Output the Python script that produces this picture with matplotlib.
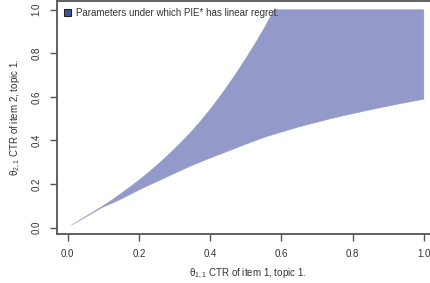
import matplotlib
matplotlib.use("Agg")
import matplotlib.pyplot as plt
from matplotlib.patches import Patch

plt.rcParams['font.family'] = ['Liberation Sans', 'DejaVu Sans']
plt.rcParams['mathtext.default'] = 'regular'

# upper boundary of the region
upper_x = [0.01, 0.10, 0.13, 0.155, 0.18, 0.20, 0.225, 0.25, 0.285, 0.32, 0.345,
           0.37, 0.395, 0.42, 0.445, 0.47, 0.50, 0.53, 0.555, 0.58, 1.00]
upper_y = [0.01, 0.10, 0.133, 0.162, 0.192, 0.217, 0.25, 0.285, 0.337, 0.393, 0.436,
           0.482, 0.532, 0.585, 0.641, 0.70, 0.775, 0.854, 0.924, 1.00, 1.00]
# lower boundary of the region
lower_x = [0.01, 0.10, 0.13, 0.155, 0.20, 0.25, 0.30, 0.343, 0.39, 0.436, 0.50,
           0.558, 0.65, 0.745, 0.84, 0.933, 1.00]
lower_y = [0.01, 0.094, 0.115, 0.134, 0.172, 0.21, 0.248, 0.28, 0.312, 0.341, 0.382,
           0.417, 0.462, 0.502, 0.537, 0.568, 0.589]

xticks = [0.0, 0.2, 0.4, 0.6, 0.8, 1.0]
yticks = [0.0, 0.2, 0.4, 0.6, 0.8, 1.0]

fill_col = '#9399c9'
spine_col = '#555555'
text_col = '#333333'

fig = plt.figure(figsize=(4.31, 2.83), dpi=100)
ax = fig.add_axes([57 / 431, 1 - 234 / 283, 381 / 431, 233 / 283])

poly_x = upper_x + lower_x[::-1]
poly_y = upper_y + lower_y[::-1]
ax.fill(poly_x, poly_y, color=fill_col, lw=0.3, ec=fill_col)

ax.set_xlim(-0.0296, 1.0396)
ax.set_ylim(-0.0296, 1.0396)
ax.set_xticks(xticks)
ax.set_yticks(yticks)
ax.set_xticklabels([f"{t:.1f}" for t in xticks])
ax.set_yticklabels([f"{t:.1f}" for t in yticks], rotation=90, va='center')
ax.tick_params(axis='both', length=5, width=1, color=spine_col,
               labelsize=7, labelcolor=text_col, direction='out')
ax.tick_params(axis='x', pad=6)
ax.tick_params(axis='y', pad=6)
for side in ['left', 'bottom', 'top', 'right']:
    ax.spines[side].set_color(spine_col)
    ax.spines[side].set_linewidth(1.3)

ax.set_xlabel(r"$\theta_{1,1}$ CTR of item 1, topic 1.", fontsize=7,
              color=text_col, labelpad=5)
ax.set_ylabel(r"$\theta_{2,1}$ CTR of item 2, topic 1.", fontsize=7,
              color=text_col, labelpad=6)

handle = Patch(facecolor='#3f4f9f', edgecolor='#222222', lw=0.8)
ax.legend([handle], ["Parameters under which PIE* has linear regret."],
          loc='upper left', frameon=False, fontsize=7, handlelength=0.7,
          handleheight=0.7, handletextpad=0.6, borderaxespad=0.3,
          labelcolor=text_col, bbox_to_anchor=(0.0, 1.0))

fig.savefig("out.png", dpi=100)
